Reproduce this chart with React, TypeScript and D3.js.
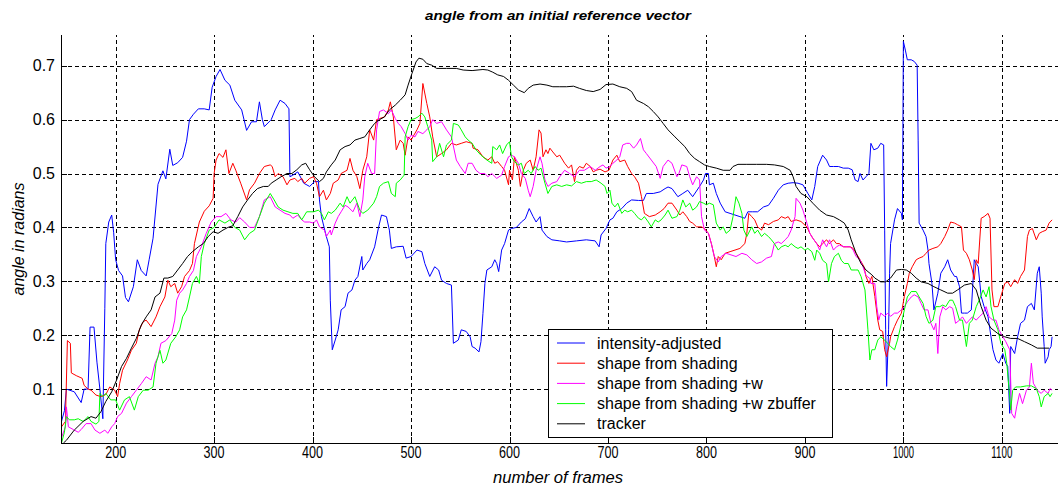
import React from 'react';
import * as d3 from 'd3';

type Pt = [number, number];

// ---- data (frame, angle in radians) ----
const intensityAdjusted: Pt[] = [
  [145,0.04],[148,0.06],[150,0.10],[158,0.095],[165,0.075],[168,0.10],[172,0.10],[174,0.215],[178,0.215],[181,0.15],[184,0.10],[187,0.045],[189,0.25],[190,0.37],[193,0.41],[196,0.423],[198,0.39],[200,0.34],[203,0.32],[207,0.31],[210,0.27],[213,0.262],[218,0.29],[222,0.34],[226,0.32],[231,0.31],[234,0.34],[238,0.38],[243,0.48],[248,0.505],[251,0.49],[255,0.545],[258,0.515],[263,0.52],[268,0.53],[272,0.56],[275,0.60],[279,0.61],[284,0.62],[290,0.62],[295,0.618],[298,0.66],[302,0.68],[306,0.693],[311,0.673],[316,0.664],[321,0.636],[328,0.618],[333,0.58],[338,0.596],[343,0.596],[346,0.633],[349,0.60],[351,0.587],[357,0.598],
  [358,0.60],[362,0.618],[367,0.636],[372,0.63],[376,0.62],[377,0.494],[380,0.497],[385,0.503],[391,0.482],[397,0.476],[402,0.485],[406,0.485],[407,0.451],[409,0.42],[414,0.383],[417,0.364],[418,0.265],[420,0.173],[423,0.191],[426,0.21],[429,0.247],[433,0.253],[436,0.278],[440,0.284],[443,0.302],[446,0.309],[450,0.346],[451,0.321],[455,0.333],[458,0.34],[463,0.364],[467,0.40],[470,0.423],[475,0.42],[478,0.395],[480,0.361],[485,0.364],[492,0.365],[495,0.343],[500,0.346],[506,0.358],[511,0.355],[514,0.333],[519,0.309],[524,0.327],[528,0.321],[531,0.302],[536,0.296],[541,0.293],[543,0.185],[548,0.191],[551,0.21],[556,0.207],[560,0.197],[562,0.179],
  [565,0.176],[569,0.169],[571,0.188],[573,0.24],[575,0.296],[577,0.321],[582,0.327],[585,0.34],[587,0.333],[589,0.318],[592,0.358],[595,0.37],[599,0.395],[602,0.398],[607,0.40],[612,0.41],[616,0.416],[620,0.435],[624,0.42],[627,0.41],[631,0.42],[633,0.395],[638,0.383],[643,0.377],[651,0.375],[658,0.373],[668,0.375],[678,0.377],[687,0.375],[691,0.364],[693,0.386],[698,0.398],[702,0.414],[705,0.417],[709,0.429],[714,0.435],[719,0.445],[724,0.451],[731,0.45],[736,0.45],[739,0.463],[746,0.463],[753,0.466],[758,0.472],[761,0.475],[765,0.472],
  [771,0.457],[776,0.463],[781,0.469],[786,0.457],[793,0.476],[797,0.488],[799,0.50],[802,0.50],[803,0.479],[807,0.482],[810,0.463],[814,0.445],[819,0.429],[824,0.426],[829,0.423],[834,0.42],[839,0.417],[842,0.429],[847,0.429],[852,0.429],[858,0.438],[863,0.441],[868,0.454],[873,0.469],[878,0.479],[883,0.482],[888,0.483],[893,0.482],[898,0.479],[903,0.463],[907,0.451],[910,0.476],[913,0.513],[918,0.534],[922,0.525],[925,0.513],[929,0.513],[934,0.513],[939,0.51],[944,0.51],[948,0.507],[951,0.488],[954,0.485],[956,0.50],[959,0.488],[962,0.494],[965,0.50],[967,0.556],
  [970,0.544],[974,0.547],[977,0.556],[980,0.553],[981,0.395],[982,0.21],[983,0.105],[985,0.21],[986,0.315],[987,0.37],[991,0.414],[994,0.435],[998,0.426],[999,0.414],[1000,0.745],[1002,0.729],[1004,0.711],[1008,0.711],[1011,0.708],[1014,0.701],[1015,0.562],[1016,0.408],[1020,0.395],[1023,0.383],[1025,0.358],[1026,0.333],[1029,0.296],[1031,0.247],[1035,0.278],[1038,0.315],[1042,0.327],[1045,0.34],[1048,0.321],[1052,0.309],[1054,0.309],[1057,0.29],[1059,0.241],[1062,0.241],[1065,0.241],[1069,0.247],[1072,0.34],[1074,0.333],[1076,0.327],[1079,0.272],[1082,0.253],[1086,0.234],[1089,0.197],[1091,0.173],[1094,0.154],[1097,0.148],[1101,0.166],[1104,0.148],[1106,0.142],[1108,0.055],[1109,0.179],[1113,0.166],[1116,0.197],[1119,0.222],[1123,0.228],[1126,0.253],[1130,0.259],[1133,0.247],[1136,0.315],[1138,0.327],[1140,0.278],[1141,0.234],[1143,0.179],[1144,0.148],[1147,0.16],[1148,0.173],[1150,0.179],[1151,0.197],
];

const shapeFromShading: Pt[] = [
  [145,0.03],[149,0.04],[151,0.19],[154,0.185],[155,0.13],[160,0.125],[166,0.12],[168,0.107],[172,0.10],[175,0.098],[180,0.089],[185,0.086],[190,0.09],[194,0.104],[199,0.098],[202,0.086],[204,0.11],[207,0.135],[212,0.154],[216,0.172],[221,0.185],[224,0.21],[228,0.225],[231,0.228],[236,0.216],[241,0.234],[245,0.253],[250,0.271],[253,0.302],[256,0.29],[260,0.296],[263,0.278],[267,0.29],[270,0.309],[275,0.32],[278,0.333],[280,0.37],[285,0.41],[290,0.43],[295,0.44],[299,0.454],[300,0.50],[302,0.525],[305,0.537],[309,0.53],[312,0.544],[315,0.50],[319,0.519],[322,0.506],[327,0.482],[333,0.451],[336,0.47],[341,0.482],[346,0.50],[351,0.513],[357,0.516],
  [359,0.513],[362,0.494],[365,0.50],[370,0.494],[374,0.479],[377,0.488],[382,0.491],[385,0.485],[389,0.491],[392,0.482],[397,0.491],[401,0.494],[404,0.482],[407,0.457],[411,0.469],[414,0.451],[418,0.463],[421,0.482],[426,0.488],[429,0.50],[435,0.506],[438,0.528],[441,0.506],[445,0.494],[448,0.472],[451,0.506],[455,0.531],[458,0.581],[462,0.562],[465,0.60],[468,0.602],[473,0.605],[477,0.618],[479,0.633],[482,0.605],[485,0.544],[489,0.562],[492,0.556],[494,0.534],[497,0.568],[500,0.562],[506,0.581],[509,0.593],[512,0.667],[516,0.63],[519,0.605],[522,0.568],[526,0.531],[531,0.537],[536,0.544],[541,0.556],[546,0.553],[551,0.556],[556,0.559],[562,0.556],
  [563,0.547],[568,0.544],[573,0.531],[578,0.525],[582,0.531],[585,0.519],[588,0.522],[592,0.513],[595,0.506],[599,0.479],[600,0.506],[603,0.488],[605,0.531],[609,0.506],[611,0.476],[614,0.506],[617,0.519],[621,0.525],[624,0.506],[627,0.531],[630,0.581],[632,0.575],[634,0.531],[637,0.544],[639,0.537],[641,0.547],[644,0.54],[648,0.531],[651,0.534],[656,0.519],[660,0.51],[663,0.516],[666,0.485],[668,0.506],[671,0.513],[675,0.51],[678,0.519],[682,0.513],[685,0.503],[688,0.506],[692,0.508],[697,0.503],[701,0.506],[705,0.525],[709,0.534],[712,0.522],[717,0.525],[720,0.513],[724,0.50],[727,0.494],[731,0.482],[734,0.457],[737,0.426],[742,0.42],[748,0.423],[753,0.429],[757,0.435],[761,0.445],[765,0.445],
  [770,0.432],[773,0.423],[776,0.429],[780,0.42],[783,0.411],[786,0.408],[790,0.401],[795,0.401],[798,0.398],[802,0.389],[805,0.37],[808,0.346],[810,0.327],[812,0.346],[815,0.34],[819,0.352],[824,0.355],[829,0.358],[834,0.361],[839,0.37],[841,0.389],[843,0.426],[846,0.42],[849,0.414],[852,0.401],[856,0.395],[859,0.408],[863,0.405],[868,0.411],[873,0.414],[876,0.42],[880,0.417],[883,0.42],[886,0.411],[891,0.414],[896,0.411],[902,0.401],[905,0.389],[908,0.38],[912,0.37],[915,0.364],[918,0.37],[922,0.377],[925,0.37],[929,0.377],[932,0.37],[935,0.37],[939,0.364],[942,0.364],[946,0.364],[949,0.361],[952,0.352],[956,0.34],[960,0.327],[962,0.309],[965,0.296],[968,0.309],
  [971,0.272],[974,0.228],[976,0.21],[979,0.207],[981,0.173],[983,0.16],[986,0.185],[987,0.197],[991,0.216],[994,0.228],[998,0.241],[1001,0.272],[1004,0.296],[1006,0.315],[1009,0.327],[1013,0.34],[1016,0.343],[1020,0.346],[1023,0.352],[1026,0.358],[1030,0.361],[1035,0.364],[1038,0.37],[1042,0.383],[1045,0.395],[1048,0.41],[1052,0.408],[1055,0.405],[1059,0.401],[1061,0.358],[1064,0.352],[1067,0.34],[1070,0.321],[1072,0.303],[1074,0.34],[1076,0.333],[1079,0.417],[1082,0.42],[1086,0.426],[1088,0.417],[1090,0.284],[1092,0.253],[1096,0.253],[1099,0.272],[1103,0.296],[1106,0.299],[1109,0.29],[1113,0.303],[1116,0.296],[1119,0.309],[1123,0.321],[1126,0.383],[1128,0.395],[1131,0.398],[1135,0.377],[1138,0.389],[1141,0.392],[1145,0.395],[1148,0.408],[1151,0.414],
];

const shapeFromShadingW: Pt[] = [
  [145,0.01],[149,0.03],[150,0.067],[152,0.03],[157,0.025],[162,0.02],[165,0.025],[170,0.036],[175,0.036],[179,0.024],[184,0.018],[189,0.024],[192,0.018],[196,0.03],[199,0.036],[202,0.049],[206,0.055],[211,0.074],[216,0.086],[221,0.098],[226,0.11],[231,0.123],[236,0.117],[240,0.148],[243,0.16],[246,0.185],[251,0.19],[257,0.203],[260,0.228],[262,0.265],[265,0.278],[268,0.284],[272,0.296],[275,0.309],[279,0.32],[282,0.346],[287,0.364],[292,0.389],[297,0.41],[302,0.42],[307,0.42],[312,0.426],[317,0.414],[322,0.41],[326,0.418],[331,0.41],[336,0.40],[341,0.40],[346,0.42],[351,0.451],[357,0.457],
  [362,0.438],[367,0.432],[372,0.426],[377,0.423],[380,0.417],[385,0.423],[389,0.414],[392,0.41],[397,0.41],[401,0.408],[404,0.414],[407,0.401],[412,0.395],[414,0.383],[418,0.395],[419,0.386],[423,0.408],[426,0.42],[429,0.429],[433,0.441],[436,0.438],[441,0.429],[445,0.445],[448,0.42],[451,0.451],[453,0.494],[456,0.519],[460,0.50],[463,0.50],[465,0.581],[468,0.615],[472,0.618],[477,0.611],[480,0.618],[484,0.602],[487,0.593],[490,0.587],[494,0.574],[497,0.562],[500,0.571],[504,0.568],[507,0.578],[512,0.574],[516,0.581],[519,0.587],[522,0.60],[526,0.593],[531,0.596],[536,0.581],[541,0.568],[546,0.525],[550,0.513],[555,0.50],[558,0.519],[562,0.519],
  [566,0.506],[570,0.50],[575,0.50],[578,0.494],[582,0.50],[587,0.491],[592,0.497],[595,0.513],[599,0.531],[602,0.534],[605,0.531],[609,0.519],[612,0.50],[616,0.491],[619,0.469],[621,0.457],[624,0.476],[627,0.506],[631,0.531],[633,0.519],[636,0.488],[639,0.476],[643,0.482],[648,0.485],[651,0.494],[656,0.506],[661,0.50],[666,0.494],[671,0.506],[676,0.506],[682,0.513],[687,0.506],[692,0.513],[695,0.516],[698,0.51],[702,0.513],[705,0.519],[709,0.525],[712,0.531],[715,0.553],[719,0.556],[722,0.556],[726,0.547],[729,0.553],[733,0.565],[736,0.544],[739,0.537],[744,0.525],[749,0.513],[753,0.491],[756,0.513],[761,0.525],[765,0.519],
  [770,0.494],[772,0.50],[775,0.516],[780,0.513],[783,0.494],[786,0.479],[790,0.494],[793,0.488],[795,0.42],[798,0.395],[802,0.389],[805,0.37],[808,0.346],[812,0.336],[815,0.346],[820,0.352],[825,0.349],[830,0.346],[836,0.352],[841,0.349],[846,0.34],[851,0.333],[856,0.336],[861,0.343],[866,0.346],[869,0.37],[873,0.373],[876,0.37],[880,0.377],[883,0.383],[886,0.395],[890,0.42],[891,0.454],[895,0.445],[898,0.432],[902,0.408],[905,0.389],[908,0.38],[912,0.37],[915,0.358],[918,0.377],[922,0.364],[925,0.377],[929,0.358],[932,0.364],[935,0.367],[940,0.364],[946,0.364],[949,0.358],[952,0.346],[956,0.34],[959,0.327],[962,0.311],[966,0.305],
  [967,0.296],[971,0.296],[973,0.253],[975,0.228],[977,0.241],[981,0.235],[984,0.241],[987,0.235],[991,0.241],[994,0.241],[998,0.247],[1001,0.253],[1004,0.262],[1008,0.271],[1011,0.275],[1015,0.271],[1018,0.259],[1021,0.247],[1025,0.247],[1028,0.222],[1031,0.21],[1033,0.222],[1035,0.166],[1037,0.234],[1040,0.253],[1043,0.247],[1047,0.253],[1050,0.25],[1053,0.222],[1057,0.228],[1060,0.234],[1064,0.222],[1067,0.228],[1070,0.234],[1074,0.228],[1077,0.234],[1081,0.241],[1084,0.253],[1087,0.234],[1091,0.228],[1094,0.228],[1097,0.21],[1101,0.197],[1104,0.188],[1108,0.173],[1110,0.055],[1113,0.046],[1115,0.067],[1118,0.092],[1121,0.073],[1125,0.098],[1128,0.104],[1130,0.148],[1132,0.111],[1136,0.098],[1140,0.092],[1143,0.098],[1147,0.092],[1149,0.101],[1151,0.098],
];

const shapeFromShadingWZ: Pt[] = [
  [145,0.0],[148,0.02],[150,0.049],[153,0.043],[158,0.043],[162,0.045],[167,0.04],[172,0.049],[175,0.04],[180,0.035],[183,0.04],[184,0.092],[187,0.086],[190,0.092],[195,0.08],[200,0.08],[204,0.061],[209,0.08],[214,0.086],[219,0.061],[223,0.086],[228,0.098],[233,0.098],[238,0.104],[241,0.148],[245,0.172],[248,0.148],[251,0.154],[256,0.185],[261,0.197],[265,0.21],[268,0.234],[272,0.247],[275,0.271],[278,0.296],[282,0.309],[285,0.296],[287,0.346],[290,0.37],[295,0.395],[300,0.40],[305,0.414],[311,0.408],[316,0.414],[321,0.40],[326,0.395],[331,0.377],[336,0.389],[341,0.395],[346,0.42],[351,0.445],[357,0.463],
  [361,0.451],[365,0.438],[370,0.432],[375,0.429],[380,0.426],[385,0.426],[389,0.414],[394,0.429],[401,0.429],[406,0.432],[409,0.426],[412,0.414],[416,0.429],[419,0.426],[423,0.432],[428,0.445],[431,0.438],[435,0.457],[438,0.445],[443,0.457],[448,0.432],[451,0.426],[456,0.432],[462,0.445],[465,0.457],[468,0.476],[472,0.482],[477,0.485],[480,0.463],[484,0.457],[485,0.482],[489,0.488],[493,0.497],[494,0.568],[497,0.587],[500,0.60],[504,0.602],[507,0.605],[511,0.612],[514,0.605],[517,0.587],[521,0.562],[522,0.522],[526,0.531],[529,0.556],[533,0.531],[536,0.553],[541,0.562],[543,0.593],[548,0.59],[551,0.581],[555,0.568],[558,0.562],[562,0.556],
  [566,0.544],[571,0.534],[577,0.525],[582,0.519],[583,0.55],[587,0.544],[590,0.553],[593,0.537],[597,0.553],[600,0.559],[602,0.531],[605,0.522],[609,0.516],[612,0.519],[615,0.50],[619,0.506],[622,0.50],[626,0.513],[629,0.506],[632,0.51],[636,0.482],[639,0.463],[643,0.476],[648,0.479],[653,0.476],[658,0.479],[663,0.477],[668,0.485],[673,0.482],[678,0.485],[683,0.485],[688,0.488],[693,0.482],[697,0.476],[699,0.463],[702,0.469],[704,0.445],[707,0.438],[710,0.445],[714,0.426],[717,0.432],[720,0.429],[724,0.432],[727,0.426],[731,0.417],[734,0.414],[737,0.42],[741,0.41],[744,0.401],[748,0.414],[751,0.41],[754,0.414],[758,0.423],[761,0.432],[765,0.417],
  [770,0.42],[773,0.432],[776,0.451],[779,0.438],[783,0.445],[786,0.432],[790,0.438],[793,0.448],[797,0.445],[800,0.442],[803,0.445],[807,0.442],[810,0.408],[814,0.395],[817,0.401],[820,0.389],[824,0.395],[827,0.42],[830,0.457],[833,0.445],[836,0.426],[838,0.395],[841,0.383],[846,0.401],[849,0.389],[852,0.395],[856,0.383],[859,0.389],[863,0.383],[866,0.377],[869,0.37],[873,0.358],[876,0.364],[880,0.367],[883,0.364],[886,0.37],[890,0.364],[893,0.361],[896,0.364],[900,0.358],[903,0.361],[907,0.355],[910,0.339],[912,0.358],[915,0.352],[918,0.339],[922,0.333],[924,0.299],[927,0.333],[930,0.346],[934,0.352],[937,0.339],[940,0.333],[944,0.333],[947,0.321],[951,0.321],[954,0.321],[957,0.309],[961,0.284],[964,0.21],[966,0.154],[968,0.173],
  [971,0.173],[974,0.191],[977,0.197],[981,0.191],[984,0.185],[987,0.179],[991,0.173],[994,0.191],[998,0.222],[1001,0.247],[1004,0.271],[1008,0.281],[1013,0.281],[1016,0.271],[1020,0.259],[1023,0.235],[1026,0.222],[1030,0.228],[1033,0.253],[1037,0.253],[1040,0.256],[1043,0.253],[1047,0.265],[1050,0.265],[1053,0.253],[1057,0.228],[1060,0.228],[1064,0.179],[1067,0.222],[1070,0.228],[1074,0.253],[1077,0.265],[1081,0.284],[1084,0.271],[1087,0.29],[1089,0.253],[1092,0.228],[1096,0.21],[1099,0.185],[1103,0.173],[1105,0.148],[1108,0.086],[1109,0.061],[1111,0.098],[1114,0.104],[1119,0.104],[1125,0.106],[1130,0.106],[1135,0.101],[1138,0.086],[1140,0.067],[1143,0.086],[1147,0.092],[1149,0.086],[1151,0.092],
];

const tracker: Pt[] = [
  [147,0.0],[150,0.005],[158,0.024],[167,0.04],[175,0.049],[180,0.046],[185,0.058],[190,0.077],[196,0.095],[201,0.117],[206,0.142],[211,0.157],[216,0.176],[221,0.194],[226,0.219],[231,0.234],[236,0.247],[240,0.271],[245,0.278],[249,0.306],[253,0.306],[258,0.309],[263,0.321],[268,0.333],[273,0.346],[278,0.355],[284,0.364],[289,0.37],[294,0.383],[299,0.392],[304,0.389],[309,0.395],[314,0.40],[319,0.403],[324,0.42],[329,0.438],[334,0.451],[339,0.463],[344,0.472],[350,0.476],[355,0.476],
  [358,0.482],[363,0.488],[368,0.494],[374,0.50],[379,0.50],[384,0.507],[389,0.516],[393,0.519],[397,0.507],[402,0.494],[407,0.485],[411,0.491],[414,0.503],[419,0.516],[423,0.525],[428,0.544],[433,0.55],[438,0.553],[443,0.562],[448,0.565],[453,0.568],[458,0.581],[463,0.593],[468,0.60],[473,0.605],[478,0.618],[484,0.627],[489,0.636],[494,0.646],[497,0.664],[501,0.686],[505,0.707],[508,0.714],[512,0.712],[516,0.704],[521,0.701],[526,0.695],[536,0.695],[546,0.695],[553,0.692],[562,0.691],
  [573,0.693],[578,0.692],[583,0.688],[588,0.683],[594,0.68],[599,0.673],[604,0.664],[609,0.655],[615,0.65],[619,0.658],[624,0.664],[631,0.666],[638,0.664],[644,0.661],[651,0.661],[658,0.661],[665,0.662],[671,0.658],[678,0.654],[685,0.652],[692,0.656],[698,0.665],[705,0.666],[712,0.661],[719,0.658],[724,0.652],[729,0.636],[736,0.630],[741,0.624],[746,0.615],[751,0.605],[756,0.593],[761,0.581],
  [768,0.568],[773,0.559],[778,0.55],[783,0.537],[788,0.528],[793,0.522],[798,0.516],[803,0.513],[810,0.51],[817,0.506],[824,0.506],[827,0.513],[832,0.517],[841,0.517],[851,0.517],[861,0.517],[869,0.516],[878,0.513],[885,0.506],[888,0.494],[891,0.476],[896,0.463],[902,0.457],[908,0.445],[915,0.432],[922,0.423],[929,0.42],[935,0.414],[940,0.408],[944,0.395],[947,0.377],[952,0.352],[957,0.333],[962,0.321],[968,0.312],
  [971,0.306],[977,0.299],[982,0.299],[987,0.306],[993,0.321],[998,0.322],[1003,0.321],[1008,0.315],[1013,0.306],[1018,0.299],[1025,0.296],[1031,0.29],[1038,0.284],[1045,0.278],[1050,0.278],[1055,0.284],[1062,0.293],[1069,0.296],[1074,0.284],[1079,0.253],[1084,0.228],[1089,0.213],[1096,0.203],[1103,0.197],[1109,0.194],[1116,0.194],[1123,0.188],[1130,0.182],[1136,0.176],[1143,0.176],[1148,0.176],
];

const seriesNames = ['intensity-adjusted', 'shape from shading', 'shape from shading +w', 'shape from shading +w zbuffer', 'tracker'];
const seriesColors = ['#0000ff', '#ff0000', '#ff00ff', '#00ff00', '#000000'];
const seriesData = [intensityAdjusted, shapeFromShading, shapeFromShadingW, shapeFromShadingWZ, tracker];

const xTicks = [200, 300, 400, 500, 600, 700, 800, 900, 1000, 1100];
const yTicks = [0.1, 0.2, 0.3, 0.4, 0.5, 0.6, 0.7];

export default function App() {
  const W = 1058, H = 488;
  const left = 61, right = 1056, top = 35, bottom = 443;
  const x = d3.scaleLinear().domain([144.5, 1155]).range([left, right]);
  const y = d3.scaleLinear().domain([0, 0.757]).range([bottom, top]);
  const line = d3.line<Pt>().x(d => x(d[0])).y(d => y(d[1]));
  const font = "'Liberation Sans', Arial, Helvetica, sans-serif";
  const narrow = "'Liberation Sans Narrow', 'Liberation Sans', Arial, sans-serif";

  const legX = 548, legY = 329, legW = 284, legH = 108;
  const rowY = (i: number) => legY + 14 + i * 20.2;

  return (
    <svg width={W} height={H} style={{ position: 'absolute', left: 0, top: 0, background: '#fff' }}>
      <rect x={0} y={0} width={W} height={H} fill="#fff" />
      {/* grid */}
      <g stroke="#000" strokeWidth={1} strokeDasharray="4,3" fill="none">
        {xTicks.map(t => (
          <line key={'gx' + t} x1={Math.round(x(t)) + 0.5} x2={Math.round(x(t)) + 0.5} y1={bottom} y2={top} />
        ))}
        {yTicks.map(t => (
          <line key={'gy' + t} x1={left} x2={right + 4} y1={Math.round(y(t)) + 0.5} y2={Math.round(y(t)) + 0.5} />
        ))}
      </g>
      {/* series */}
      <g fill="none" strokeWidth={1} strokeLinejoin="round">
        {seriesData.map((d, i) => (
          <path key={seriesNames[i]} d={line(d) || ''} stroke={seriesColors[i]} />
        ))}
      </g>
      {/* axes */}
      <g stroke="#000" strokeWidth={1}>
        <line x1={left + 0.5} x2={left + 0.5} y1={top} y2={bottom + 0.5} />
        <line x1={left} x2={W} y1={bottom + 0.5} y2={bottom + 0.5} />
        {xTicks.map(t => (
          <line key={'tx' + t} x1={Math.round(x(t)) + 0.5} x2={Math.round(x(t)) + 0.5} y1={bottom} y2={bottom - 6} />
        ))}
        {yTicks.map(t => (
          <line key={'ty' + t} x1={left} x2={left + 6} y1={Math.round(y(t)) + 0.5} y2={Math.round(y(t)) + 0.5} />
        ))}
      </g>
      {/* tick labels */}
      <g fontFamily={font} fontSize={16} fill="#000">
        {xTicks.map(t => (
          <text key={'lx' + t} x={x(t)} y={458} textAnchor="middle" textLength={21} lengthAdjust="spacingAndGlyphs">{t}</text>
        ))}
        {yTicks.map(t => (
          <text key={'ly' + t} x={55} y={y(t)} dy="0.35em" textAnchor="end">{t.toFixed(1)}</text>
        ))}
      </g>
      {/* labels */}
      <text x={558} y={20} textAnchor="middle" fontFamily={narrow} fontSize={13} fontStyle="italic" fontWeight="bold" textLength={266} lengthAdjust="spacingAndGlyphs">angle from an initial reference vector</text>
      <text x={558} y={483} textAnchor="middle" fontFamily={narrow} fontSize={16} fontStyle="italic" textLength={130} lengthAdjust="spacingAndGlyphs">number of frames</text>
      <text transform={`translate(24,${(top + bottom) / 2}) rotate(-90)`} textAnchor="middle" fontFamily={font} fontSize={16} fontStyle="italic">angle in radians</text>
      {/* legend */}
      <g>
        <rect x={legX + 0.5} y={legY + 0.5} width={legW} height={legH} fill="#fff" stroke="#000" strokeWidth={1} />
        {seriesNames.map((n, i) => (
          <g key={'leg' + n}>
            <line x1={557} x2={585} y1={rowY(i)} y2={rowY(i)} stroke={seriesColors[i]} strokeWidth={1} />
            <text x={597} y={rowY(i)} dy="0.35em" fontFamily={font} fontSize={16} fill="#000">{n}</text>
          </g>
        ))}
      </g>
    </svg>
  );
}
